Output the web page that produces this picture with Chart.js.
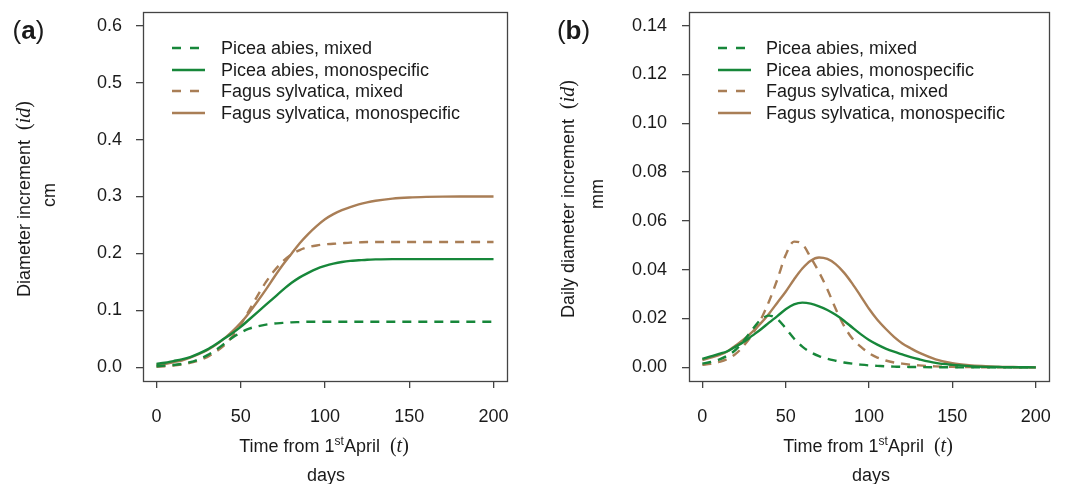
<!DOCTYPE html>
<html>
<head>
<meta charset="utf-8">
<script src="https://cdn.jsdelivr.net/npm/chart.js@4.4.1/dist/chart.umd.min.js"></script>
<style>
  body { margin:0; background:#fff; }
  #wrap { position:relative; width:1065px; height:484px; overflow:hidden; font-family:"Liberation Sans", Arial, sans-serif; color:#1a1a1a; }
  canvas { position:absolute; top:0; }
  .t { position:absolute; white-space:nowrap; font-size:18px; line-height:1; }
  .m { font-family:"Liberation Serif", "Times New Roman", serif; font-size:20px; }
  .m i { font-style:italic; }
  .leg { position:absolute; font-size:18px; line-height:1; }
  .row { position:absolute; left:0; height:20px; white-space:nowrap; }
  .row svg { position:absolute; left:0; top:8px; }
  .row span { position:absolute; top:1px; }
  .pl { position:absolute; font-size:26px; line-height:1; white-space:nowrap; }
</style>
</head>
<body>
<div id="wrap">
  <canvas id="ca" width="530" height="484" style="left:0"></canvas>
  <canvas id="cb" width="535" height="484" style="left:530px"></canvas>
</div>
<script>
// ---------- data ----------
const days = [0,5,10,15,20,25,30,35,40,45,50,55,60,65,70,75,80,85,90,95,100,105,110,115,120,125,130,140,150,160,170,180,190,200];

const seriesNames = ['Picea abies, mixed','Picea abies, monospecific','Fagus sylvatica, mixed','Fagus sylvatica, monospecific'];

// panel (a): cumulative diameter increment, cm
const piceaMixedA = [.002,.003,.004,.006,.009,.014,.021,.030,.041,.052,.061,.068,.072,.075,.077,.078,.079,.0795,.08,.08,.08,.08,.08,.08,.08,.08,.08,.08,.08,.08,.08,.08,.08,.08];
const piceaMonoA  = [.006,.008,.011,.014,.018,.024,.031,.040,.050,.060,.071,.084,.097,.110,.123,.136,.148,.158,.166,.173,.178,.182,.185,.187,.188,.189,.1895,.19,.19,.19,.19,.19,.19,.19];
const fagusMixedA = [.001,.002,.003,.005,.008,.012,.018,.027,.038,.054,.075,.100,.126,.150,.170,.186,.198,.206,.211,.214,.216,.217,.218,.219,.2195,.22,.22,.22,.22,.22,.22,.22,.22,.22];
const fagusMonoA  = [.004,.006,.009,.012,.017,.023,.030,.039,.050,.063,.078,.096,.116,.137,.159,.180,.199,.218,.234,.248,.260,.269,.276,.2815,.2862,.2898,.2925,.2963,.2983,.2993,.2998,.3,.3,.3];

// panel (b): daily diameter increment, mm
const piceaMixedB = [.0015,.0022,.0032,.0048,.0072,.011,.0155,.0195,.0212,.0198,.016,.0118,.0085,.0062,.0046,.0035,.0027,.002,.0015,.0011,.0008,.0006,.0004,.0003,.0002,.00015,.0001,.00005,0,0,0,0,0,0];
const piceaMonoB  = [.0035,.0045,.0055,.0066,.0085,.0105,.013,.0155,.0183,.021,.0238,.0258,.0265,.0261,.025,.0235,.0215,.0191,.0163,.0136,.0112,.0093,.0077,.0064,.0053,.0042,.0033,.0018,.001,.0005,.0002,.0001,.00005,0];
const fagusMixedB = [.001,.0014,.0022,.0034,.0055,.009,.0135,.0195,.027,.036,.046,.0515,.0505,.045,.039,.032,.024,.017,.0118,.0085,.0058,.004,.0028,.002,.0015,.0011,.0008,.0004,.0002,.0001,0,0,0,0];
const fagusMonoB  = [.003,.004,.005,.0065,.009,.0115,.0145,.018,.022,.0265,.031,.036,.0405,.0437,.045,.0444,.0423,.0388,.0343,.0292,.024,.0195,.0158,.0125,.0098,.0078,.006,.0033,.0017,.0009,.0005,.0002,.0001,0];

const xTicks = [0,50,100,150,200];
const yTicksA = [0,0.1,0.2,0.3,0.4,0.5,0.6];
const yLabelsA = ['0.0','0.1','0.2','0.3','0.4','0.5','0.6'];
const yTicksB = [0,0.02,0.04,0.06,0.08,0.10,0.12,0.14];
const yLabelsB = ['0.00','0.02','0.04','0.06','0.08','0.10','0.12','0.14'];

// ---------- styles ----------
const GREEN = '#17873a';
const BROWN = '#a97e56';
const DASH = [9,7];
const styles = [
  {color:GREEN, dash:DASH},
  {color:GREEN, dash:[]},
  {color:BROWN, dash:DASH},
  {color:BROWN, dash:[]}
];
const FONT = '"Liberation Sans", Arial, sans-serif';
const AXIS = '#444';

function ds(vals, i){
  return {
    label: seriesNames[i],
    data: days.map((d,k)=>({x:d, y:vals[k]})),
    borderColor: styles[i].color,
    borderDash: styles[i].dash,
    borderWidth: 2.4,
    pointRadius: 0,
    fill: false,
    cubicInterpolationMode: 'monotone'
  };
}

const frame = {
  id:'frame',
  afterDraw(chart){
    const a = chart.chartArea, c = chart.ctx;
    c.save();
    c.strokeStyle = AXIS; c.lineWidth = 1.3; c.setLineDash([]);
    c.strokeRect(Math.round(a.left)+0.5, Math.round(a.top)+0.5, Math.round(a.right-a.left), Math.round(a.bottom-a.top));
    c.restore();
  }
};

function makeChart(id, sets, yMin, yMax, yTicks, yLabels, yWidth, rightPad, yPad){
  return new Chart(document.getElementById(id), {
    type:'line',
    data:{datasets:sets},
    options:{
      responsive:false, animation:false, devicePixelRatio:1,
      layout:{padding:{left:0, right:rightPad, top:12, bottom:484-381-60}},
      plugins:{legend:{display:false}, tooltip:{enabled:false}},
      scales:{
        x:{
          type:'linear', min:-8, max:208,
          afterBuildTicks:s=>{ s.ticks = xTicks.map(v=>({value:v})); },
          afterFit:s=>{ s.height = 60; s.paddingLeft = 0; s.paddingRight = 0; },
          grid:{drawOnChartArea:false, drawTicks:true, tickLength:7, color:AXIS, lineWidth:1.3},
          border:{display:false},
          ticks:{font:{family:FONT, size:18}, color:'#1a1a1a', padding:18, maxRotation:0, autoSkip:false,
                 callback:(v)=>String(v)}
        },
        y:{
          type:'linear', min:yMin, max:yMax,
          afterBuildTicks:s=>{ s.ticks = yTicks.map(v=>({value:v})); },
          afterFit:s=>{ s.width = yWidth; s.paddingTop = 0; s.paddingBottom = 0; },
          grid:{drawOnChartArea:false, drawTicks:true, tickLength:7, color:AXIS, lineWidth:1.3},
          border:{display:false},
          ticks:{font:{family:FONT, size:18}, color:'#1a1a1a', padding:yPad, autoSkip:false,
                 callback:(v,i)=>yLabels[i]}
        }
      }
    },
    plugins:[frame]
  });
}

makeChart('ca', [ds(piceaMixedA,0), ds(piceaMonoA,1), ds(fagusMixedA,2), ds(fagusMonoA,3)],
          -0.024, 0.624, yTicksA, yLabelsA, 143, 23, 14);
makeChart('cb', [ds(piceaMixedB,0), ds(piceaMonoB,1), ds(fagusMixedB,2), ds(fagusMonoB,3)],
          -0.0056, 0.1456, yTicksB, yLabelsB, 159, 16, 15);

// ---------- text overlays ----------
const wrap = document.getElementById('wrap');
function txt(html, cx, cy, cls, rot){
  const d = document.createElement('div');
  d.className = cls || 't';
  d.innerHTML = html;
  d.style.left = cx + 'px';
  d.style.top = cy + 'px';
  d.style.transform = 'translate(-50%,-50%)' + (rot ? ' rotate(' + rot + 'deg)' : '');
  wrap.appendChild(d);
  return d;
}
// panel labels
txt('(<b>a</b>)', 28.5, 30, 'pl');
txt('(<b>b</b>)', 573.5, 30, 'pl');
// y titles
txt('Diameter increment&nbsp;&nbsp;<span class="m">(<i>id</i>)</span>', 23, 199, 't', -90);
txt('cm', 49, 195, 't', -90);
txt('Daily diameter increment&nbsp;&nbsp;<span class="m">(<i>id</i>)</span>', 567, 199, 't', -90);
txt('mm', 597, 194, 't', -90);
// x titles
const xt = 'Time from 1<sup style="font-size:12px;vertical-align:7px">st</sup>April&nbsp;&nbsp;<span class="m">(<i>t</i>)</span>';
txt(xt, 324, 445, 't');
txt('days', 326, 475, 't');
txt(xt, 868, 445, 't');
txt('days', 871, 475, 't');

// legends
function legend(lineX, textX, topY){
  const L = document.createElement('div');
  L.className = 'leg';
  L.style.left = lineX + 'px';
  L.style.top = topY + 'px';
  seriesNames.forEach((n,i)=>{
    const r = document.createElement('div');
    r.className = 'row';
    r.style.top = (i*21.5) + 'px';
    const st = styles[i];
    const len = st.dash.length ? 27 : 33;
    r.innerHTML = '<svg width="34" height="4"><line x1="0" y1="2" x2="' + len + '" y2="2" stroke="' + st.color +
      '" stroke-width="2.4" ' + (st.dash.length ? 'stroke-dasharray="9,9"' : '') + '/></svg>' +
      '<span style="left:' + (textX - lineX) + 'px">' + n + '</span>';
    L.appendChild(r);
  });
  wrap.appendChild(L);
}
legend(172, 221, 38);
legend(718, 766, 38);
</script>
</body>
</html>
